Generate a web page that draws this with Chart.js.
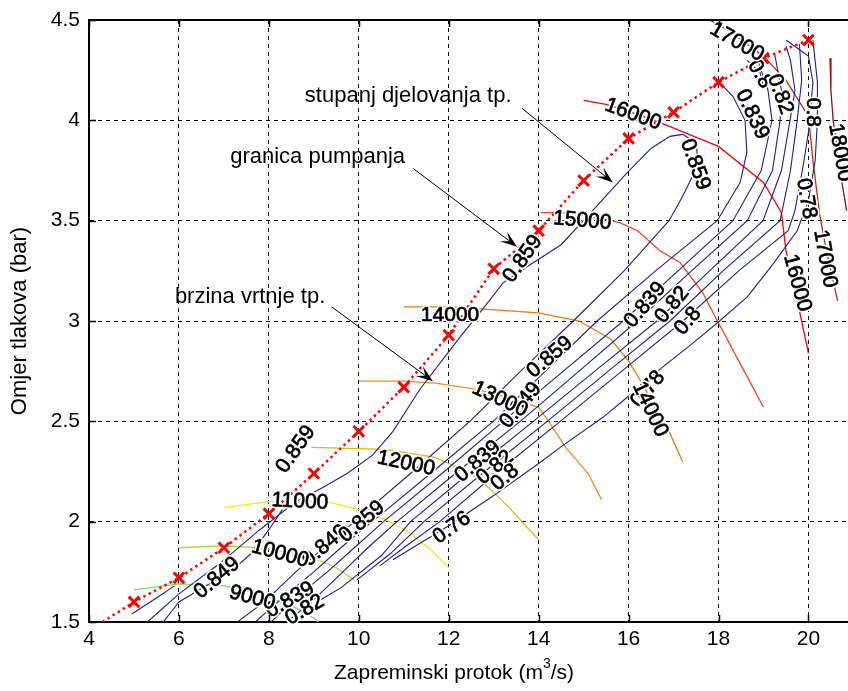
<!DOCTYPE html>
<html>
<head>
<meta charset="utf-8">
<script src="https://cdn.jsdelivr.net/npm/chart.js@4.4.0/dist/chart.umd.min.js"></script>
<style>
  html, body { margin: 0; padding: 0; background: #fff; }
  #wrap { width: 848px; height: 691px; }
</style>
</head>
<body>
<div id="wrap"><canvas id="mapChart" width="848" height="691"></canvas></div>
<script>
// axes
const xTicks = [4, 6, 8, 10, 12, 14, 16, 18, 20];
const yTicks = [1.5, 2, 2.5, 3, 3.5, 4, 4.5];

// surge line (granica pumpanja)
const surgeFlow = [5, 6, 7, 8, 9, 10, 11, 12, 13, 14, 15, 16, 17, 18, 19, 20];
const surgeRatio = [1.60, 1.72, 1.87, 2.04, 2.24, 2.45, 2.67, 2.93, 3.26, 3.45, 3.70, 3.91, 4.04, 4.19, 4.31, 4.40];
const surgeStart = [4.3, 1.5];

// constant speed lines (brzina vrtnje, rpm)
const speedNames = ['9000', '10000', '11000', '12000', '13000', '14000', '15000', '16000', '17000', '18000'];
const speed9000 = [[5.0, 1.66], [6.0, 1.69], [7.0, 1.68], [7.8, 1.64], [8.6, 1.57], [9.0, 1.52], [9.1, 1.5]];
const speed10000 = [[6.0, 1.87], [7.0, 1.88], [7.7, 1.87], [8.4, 1.85], [9.0, 1.82], [9.5, 1.77], [9.9, 1.71]];
const speed11000 = [[7.0, 2.07], [8.0, 2.10], [9.3, 2.10], [10.0, 2.06], [10.6, 2.01], [11.1, 1.95], [11.6, 1.86], [12.0, 1.77]];
const speed12000 = [[8.95, 2.37], [10.6, 2.36], [11.7, 2.32], [12.2, 2.27], [12.7, 2.21], [13.3, 2.08], [14.0, 1.91]];
const speed13000 = [[10.0, 2.70], [11.0, 2.70], [11.7, 2.69], [12.6, 2.66], [13.3, 2.62], [14.0, 2.57], [14.25, 2.49], [14.6, 2.37], [15.1, 2.24], [15.4, 2.11]];
const speed14000 = [[11.0, 3.07], [12.0, 3.07], [12.7, 3.06], [14.0, 3.04], [14.9, 3.00], [15.6, 2.91], [16.0, 2.80], [16.3, 2.69], [16.6, 2.56], [16.9, 2.45], [17.2, 2.30]];
const speed15000 = [[14.05, 3.54], [14.5, 3.54], [15.2, 3.52], [15.8, 3.49], [16.2, 3.45], [16.7, 3.35], [17.15, 3.29], [17.65, 3.14], [18.0, 2.99], [18.5, 2.78], [19.0, 2.57]];
const speed16000 = [[15.0, 4.10], [15.5, 4.08], [16.2, 4.03], [16.8, 3.98], [18.0, 3.87], [19.0, 3.69], [19.4, 3.54], [19.5, 3.35], [19.8, 3.05], [20.0, 2.84]];
const speed17000 = [[17.8, 4.5], [18.2, 4.45], [19.0, 4.32], [19.5, 4.20], [20.0, 4.02], [20.1, 3.80], [20.25, 3.53], [20.4, 3.35], [20.55, 3.20], [20.65, 3.10]];
const speed18000 = [[20.48, 4.31], [20.5, 4.15], [20.55, 4.0], [20.7, 3.75], [20.85, 3.55]];
const speedColors = ['#7ddc5a', '#b4dc28', '#f0f000', '#e4b414', '#f08c1e', '#e8780a', '#f0461e', '#ff0000', '#b43214', '#8c1414'];

// efficiency contours (stupanj djelovanja)
const eff859 = [[5.3, 1.5], [6.0, 1.64], [6.9, 1.79], [7.8, 1.96], [8.6, 2.1], [9.2, 2.17], [9.74, 2.24], [10.3, 2.33], [10.76, 2.45], [11.36, 2.66], [12.25, 2.92], [12.76, 3.06], [13.21, 3.19], [13.74, 3.27], [14.5, 3.38], [15.2, 3.55], [15.97, 3.74], [16.5, 3.86], [16.92, 3.92], [17.2, 3.93], [17.5, 3.89], [17.55, 3.78], [17.2, 3.62], [16.9, 3.5], [15.9, 3.25], [14.77, 3.0], [13.6, 2.75], [12.47, 2.5], [11.2, 2.25], [9.9, 2.0], [8.6, 1.75], [7.9, 1.6], [7.3, 1.5]];
const eff849 = [[7.7, 1.5], [8.3, 1.62], [9.0, 1.75], [9.6, 1.87], [10.3, 2.0], [11.65, 2.25], [12.99, 2.5], [14.15, 2.75], [15.3, 3.0], [16.6, 3.25], [17.97, 3.5], [18.48, 3.69], [18.63, 3.84], [18.59, 4.0], [18.32, 4.12], [17.97, 4.2]];
const eff839 = [[8.05, 1.5], [8.6, 1.62], [9.3, 1.75], [9.9, 1.87], [10.55, 2.0], [11.9, 2.25], [13.21, 2.5], [14.55, 2.75], [15.88, 3.0], [17.1, 3.25], [18.32, 3.5], [18.95, 3.75], [19.19, 4.0], [19.1, 4.15], [18.9, 4.28]];
const eff83 = [[8.4, 1.5], [8.95, 1.6], [9.6, 1.74], [10.2, 1.87], [10.85, 2.0], [12.2, 2.25], [13.59, 2.5], [14.9, 2.75], [16.19, 3.0], [17.4, 3.25], [18.64, 3.5], [19.2, 3.75], [19.37, 4.0], [19.4, 4.15], [19.25, 4.33]];
const eff82 = [[9.14, 1.61], [9.6, 1.67], [10.5, 1.83], [11.15, 2.0], [12.5, 2.25], [13.88, 2.5], [15.25, 2.75], [16.63, 3.0], [17.8, 3.25], [18.99, 3.5], [19.4, 3.75], [19.59, 4.0], [19.7, 4.15], [19.6, 4.3], [19.5, 4.37]];
const eff81 = [[9.96, 1.71], [10.7, 1.84], [11.45, 2.0], [12.8, 2.25], [14.19, 2.5], [15.55, 2.75], [16.92, 3.0], [18.1, 3.25], [19.37, 3.5], [19.6, 3.75], [19.75, 4.0], [19.85, 4.2], [19.8, 4.38]];
const eff80 = [[10.47, 1.78], [11.0, 1.87], [11.8, 2.0], [13.1, 2.25], [14.48, 2.5], [15.85, 2.75], [17.21, 3.0], [18.45, 3.25], [19.55, 3.45], [19.7, 3.55], [19.88, 3.77], [20.0, 3.94], [20.1, 4.19], [20.0, 4.32], [19.5, 4.4]];
const eff78 = [[10.76, 1.81], [12.0, 1.98], [13.0, 2.13], [14.0, 2.29], [14.48, 2.37], [15.43, 2.52], [15.97, 2.62], [16.7, 2.76], [17.43, 2.89], [17.97, 2.99], [18.64, 3.12], [19.2, 3.28], [19.75, 3.45], [20.0, 3.6], [20.15, 3.8], [20.2, 4.0], [20.2, 4.19], [20.1, 4.4]];
const effLow1 = [[4.95, 1.54], [5.5, 1.62], [5.9, 1.68]];
const effLow2 = [[5.65, 1.5], [6.0, 1.6], [6.6, 1.68], [7.2, 1.76], [7.6, 1.84], [8.0, 1.96], [8.3, 2.06]];
const effTop = [[18.63, 4.30], [18.92, 4.24], [19.0, 4.17]];

// contour labels: text, [flow, ratio], angle in degrees
const effLabels = ['0.849', '0.859', '0.859', '0.849', '0.859', '0.849', '0.859', '0.839', '0.82', '0.8', '0.76',
  '0.839', '0.82', '0.8', '0.78', '0.859', '0.839', '0.8', '0.82', '0.8', '0.78', '0.839', '0.82'];
const effLabelAt = [[6.85, 1.72], [8.6, 2.36], [13.65, 3.31], [9.25, 1.88], [10.07, 2.0], [13.6, 2.58], [14.25, 2.82], [12.65, 2.30], [13.03, 2.27], [13.25, 2.22], [12.07, 1.97],
  [16.37, 3.08], [16.97, 3.08], [17.32, 3.0], [16.43, 2.66], [17.48, 3.78], [18.75, 4.03], [18.92, 4.23], [19.37, 4.13], [20.1, 4.04], [19.95, 3.61], [8.47, 1.61], [8.8, 1.56]];
const effLabelAngle = [-40, -55, -55, -40, -40, -50, -40, -40, -40, -40, -35,
  -50, -50, -50, -50, 70, 65, 60, 70, 90, 80, -30, -30];
const speedLabels = ['9000', '10000', '11000', '12000', '13000', '14000', '14000', '15000', '16000', '16000', '17000', '17000', '18000'];
const speedLabelAt = [[7.63, 1.62], [8.25, 1.84], [8.69, 2.10], [11.05, 2.29], [13.14, 2.61], [12.03, 3.03], [16.48, 2.56], [14.97, 3.50], [16.1, 4.03], [19.75, 3.19], [18.41, 4.39], [20.37, 3.31], [20.7, 3.84]];
const speedLabelAngle = [15, 15, 3, 12, 25, 0, 65, 5, 20, 75, 30, 80, 80];

// annotations with arrows
const notes = ['stupanj djelovanja tp.', 'granica pumpanja', 'brzina vrtnje tp.'];
const noteAt = [[8.80, 4.12], [7.14, 3.82], [5.91, 3.12]];
const arrowFrom = [[13.63, 4.06], [11.21, 3.76], [9.40, 3.07]];
const arrowTo = [[15.65, 3.69], [13.52, 3.37], [11.65, 2.70]];

const FONT = '"Liberation Sans", Arial, sans-serif';
const blue = '#1e1e96';

const toXY = pts => pts.map(([x, y]) => ({ x, y }));

const datasets = [];
datasets.push({
    data: surgeFlow.map((x, i) => ({ x, y: surgeRatio[i] })),
    showLine: false,
    pointStyle: 'crossRot',
    pointRadius: 7.5,
    pointBorderWidth: 3,
    borderColor: '#ff0000'
});
datasets.push({
    data: [{ x: surgeStart[0], y: surgeStart[1] }].concat(surgeFlow.map((x, i) => ({ x, y: surgeRatio[i] }))),
    showLine: true,
    borderColor: '#ff0000',
    borderWidth: 2.5,
    borderDash: [2.5, 3.5],
    pointRadius: 0
});
[eff859, eff849, eff839, eff83, eff82, eff81, eff80, eff78, effLow1, effLow2, effTop].forEach(pts => {
    datasets.push({ data: toXY(pts), showLine: true, borderColor: blue, borderWidth: 1.1, pointRadius: 0 });
});
[speed9000, speed10000, speed11000, speed12000, speed13000, speed14000, speed15000, speed16000, speed17000, speed18000].forEach((pts, i) => {
    datasets.push({ data: toXY(pts), showLine: true, borderColor: speedColors[i], borderWidth: 1.3, pointRadius: 0 });
});

function drawLabel(ctx, text, px, py, angle, size) {
    ctx.save();
    ctx.translate(px, py);
    ctx.rotate(angle * Math.PI / 180);
    ctx.font = size + 'px ' + FONT;
    ctx.textAlign = 'center';
    ctx.textBaseline = 'middle';
    ctx.lineJoin = 'round';
    ctx.strokeStyle = '#fff';
    ctx.lineWidth = 4;
    ctx.strokeText(text, 0, 0);
    ctx.fillStyle = '#000';
    ctx.fillText(text, 0, 0);
    ctx.strokeStyle = '#000';
    ctx.lineWidth = 0.7;
    ctx.strokeText(text, 0, 0);
    ctx.restore();
}

function drawArrow(ctx, x1, y1, x2, y2) {
    const a = Math.atan2(y2 - y1, x2 - x1);
    const len = 17, w = 6;
    ctx.beginPath();
    ctx.moveTo(x1, y1);
    ctx.lineTo(x2 - 8 * Math.cos(a), y2 - 8 * Math.sin(a));
    ctx.stroke();
    ctx.beginPath();
    ctx.moveTo(x2, y2);
    ctx.lineTo(x2 - len * Math.cos(a) + w * Math.sin(a), y2 - len * Math.sin(a) - w * Math.cos(a));
    ctx.lineTo(x2 - 0.55 * len * Math.cos(a), y2 - 0.55 * len * Math.sin(a));
    ctx.lineTo(x2 - len * Math.cos(a) - w * Math.sin(a), y2 - len * Math.sin(a) + w * Math.cos(a));
    ctx.closePath();
    ctx.fill();
}

const mapDecor = {
    id: 'mapDecor',
    afterDatasetsDraw(chart) {
        const { ctx, scales: { x, y } } = chart;
        effLabels.forEach((t, i) => {
            drawLabel(ctx, t, x.getPixelForValue(effLabelAt[i][0]), y.getPixelForValue(effLabelAt[i][1]), effLabelAngle[i], 21);
        });
        speedLabels.forEach((t, i) => {
            drawLabel(ctx, t, x.getPixelForValue(speedLabelAt[i][0]), y.getPixelForValue(speedLabelAt[i][1]), speedLabelAngle[i], 21);
        });

        ctx.save();
        ctx.fillStyle = '#000';
        ctx.strokeStyle = '#000';
        ctx.lineWidth = 1;
        ctx.font = '22px ' + FONT;
        ctx.textBaseline = 'middle';
        notes.forEach((t, i) => {
            ctx.fillText(t, x.getPixelForValue(noteAt[i][0]), y.getPixelForValue(noteAt[i][1]));
            drawArrow(ctx,
                x.getPixelForValue(arrowFrom[i][0]), y.getPixelForValue(arrowFrom[i][1]),
                x.getPixelForValue(arrowTo[i][0]), y.getPixelForValue(arrowTo[i][1]));
        });
        ctx.restore();
    },
    afterDraw(chart) {
        const { ctx, chartArea: a, scales: { x, y } } = chart;
        ctx.save();
        ctx.strokeStyle = '#000';
        ctx.lineWidth = 2;
        ctx.beginPath();
        ctx.moveTo(a.left, a.top);
        ctx.lineTo(a.right, a.top);
        ctx.stroke();

        // inward tick marks
        ctx.lineWidth = 1.5;
        ctx.beginPath();
        xTicks.forEach(v => {
            const px = Math.round(x.getPixelForValue(v)) + 0.5;
            ctx.moveTo(px, a.bottom); ctx.lineTo(px, a.bottom - 7);
            ctx.moveTo(px, a.top); ctx.lineTo(px, a.top + 7);
        });
        yTicks.forEach(v => {
            const py = Math.round(y.getPixelForValue(v)) + 0.5;
            ctx.moveTo(a.left, py); ctx.lineTo(a.left + 7, py);
        });
        ctx.stroke();

        // axis titles
        ctx.fillStyle = '#000';
        ctx.font = '21px ' + FONT;
        ctx.textBaseline = 'middle';
        const p1 = 'Zapreminski protok (m', p2 = '/s)';
        const w1 = ctx.measureText(p1).width, w2 = ctx.measureText(p2).width;
        ctx.font = '14px ' + FONT;
        const w3 = ctx.measureText('3').width;
        let tx = 454 - (w1 + w2 + w3) / 2;
        ctx.font = '21px ' + FONT;
        ctx.textAlign = 'left';
        ctx.fillText(p1, tx, 673);
        ctx.font = '14px ' + FONT;
        ctx.fillText('3', tx + w1, 664);
        ctx.font = '21px ' + FONT;
        ctx.fillText(p2, tx + w1 + w3, 673);

        ctx.font = '22px ' + FONT;
        ctx.translate(20, 321);
        ctx.rotate(-Math.PI / 2);
        ctx.textAlign = 'center';
        ctx.fillText('Omjer tlakova (bar)', 0, 0);
        ctx.restore();
    }
};

new Chart(document.getElementById('mapChart'), {
    type: 'scatter',
    data: { datasets },
    options: {
        responsive: false,
        animation: false,
        layout: { autoPadding: false, padding: { top: 20, right: 0, left: 0, bottom: 0 } },
        plugins: { legend: { display: false }, tooltip: { enabled: false } },
        elements: { line: { tension: 0 } },
        scales: {
            x: {
                type: 'linear',
                min: 4,
                max: 20.88,
                afterBuildTicks: s => { s.ticks = xTicks.map(v => ({ value: v })); },
                afterFit: s => { s.height = 69; s.paddingLeft = 0; s.paddingRight = 0; },
                ticks: { color: '#000', font: { family: FONT, size: 21 }, padding: 5, callback: v => String(v) },
                grid: { color: '#000', lineWidth: 1, drawTicks: false },
                border: { display: true, color: '#000', width: 2, dash: [4, 4] }
            },
            y: {
                type: 'linear',
                min: 1.5,
                max: 4.5,
                afterBuildTicks: s => { s.ticks = yTicks.map(v => ({ value: v })); },
                afterFit: s => { s.width = 89; s.paddingTop = 0; s.paddingBottom = 0; },
                ticks: { color: '#000', font: { family: FONT, size: 21 }, padding: 9, callback: v => String(v) },
                grid: { color: '#000', lineWidth: 1, drawTicks: false },
                border: { display: true, color: '#000', width: 2, dash: [4, 4] }
            }
        }
    },
    plugins: [mapDecor]
});
</script>
</body>
</html>
